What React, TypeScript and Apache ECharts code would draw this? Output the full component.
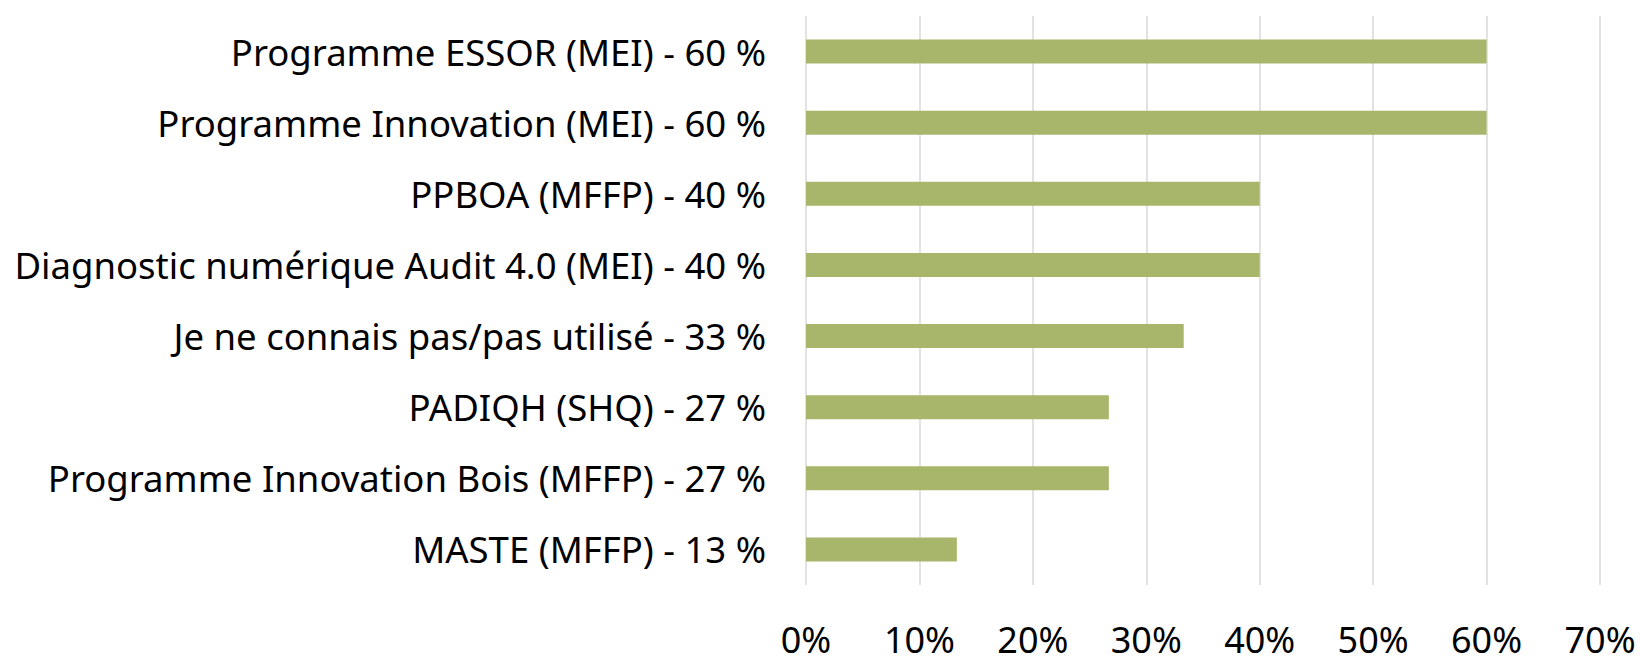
import React, { useEffect, useRef } from "react";
import * as echarts from "echarts";

const categories: string[] = [
  "Programme ESSOR (MEI) - 60 %",
  "Programme Innovation (MEI) - 60 %",
  "PPBOA (MFFP) - 40 %",
  "Diagnostic numérique Audit 4.0 (MEI) - 40 %",
  "Je ne connais pas/pas utilisé - 33 %",
  "PADIQH (SHQ) - 27 %",
  "Programme Innovation Bois (MFFP) - 27 %",
  "MASTE (MFFP) - 13 %",
];

const values: number[] = [60, 60, 40, 40, 33.3, 26.7, 26.7, 13.3];

const xMin = 0;
const xMax = 70;
const xStep = 10;

export default function App() {
  const ref = useRef<HTMLDivElement>(null);

  useEffect(() => {
    if (!ref.current) return;
    const chart = echarts.init(ref.current, undefined, { renderer: "svg" });
    const font = "'Noto Sans', 'Open Sans', sans-serif";
    chart.setOption({
      animation: false,
      backgroundColor: "#ffffff",
      grid: { left: 806, right: 42, top: 16, bottom: 70, containLabel: false },
      xAxis: {
        type: "value",
        min: xMin,
        max: xMax,
        interval: xStep,
        axisLine: { show: false },
        axisTick: { show: false },
        splitLine: { show: true, lineStyle: { color: "#D9D9D9", width: 1.5 } },
        axisLabel: {
          formatter: "{value}%",
          color: "#000000",
          fontFamily: font,
          fontSize: 36,
          lineHeight: 32,
          margin: 38,
        },
      },
      yAxis: {
        type: "category",
        data: categories,
        inverse: true,
        axisLine: { show: false },
        axisTick: { show: false },
        splitLine: { show: false },
        axisLabel: {
          color: "#000000",
          fontFamily: font,
          fontSize: 36.5,
          margin: 40,
        },
      },
      series: [
        {
          type: "bar",
          data: values,
          barWidth: 24,
          itemStyle: { color: "#A7B66A" },
        },
      ],
    });
    return () => chart.dispose();
  }, []);

  return (
    <div
      ref={ref}
      style={{ position: "absolute", left: 0, top: 0, width: 1642, height: 657 }}
    />
  );
}
